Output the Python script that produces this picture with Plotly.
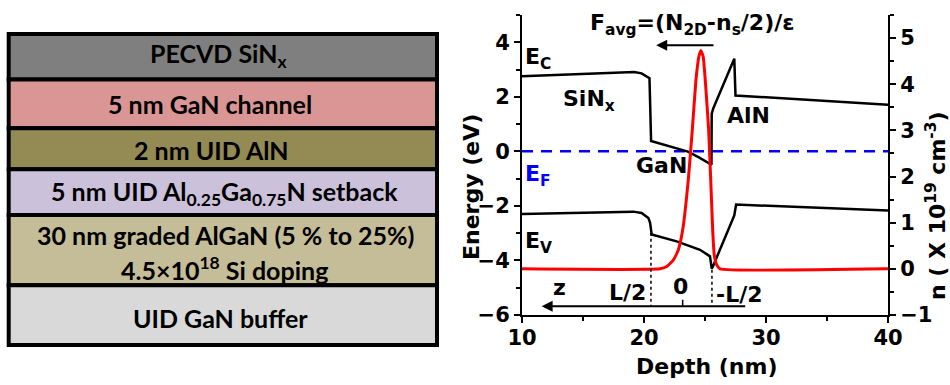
import plotly.graph_objects as go

W, H = 950, 385

# ---------------- data ----------------
# Conduction band edge E_C (eV) vs depth (nm)
depth_ec = [10, 19.2, 19.8, 20.3, 20.45, 20.58, 22.0, 23.6, 24.5, 25.45, 25.53,
            25.55, 25.7, 27.4, 27.5, 40]
energy_ec = [2.75, 2.91, 2.86, 2.72, 2.68, 0.38, 0.2, -0.01, -0.22, -0.47, -0.49,
             1.38, 1.6, 3.40, 2.05, 1.71]

# Valence band edge E_V (eV) vs depth (nm)
depth_ev = [10, 19.13, 19.8, 20.36, 20.5, 20.63, 22.68, 24.59, 25.41, 25.55,
            25.65, 27.4, 27.55, 40]
energy_ev = [-2.30, -2.21, -2.26, -2.44, -2.62, -3.05, -3.30, -3.61, -3.85, -4.30,
             -4.22, -2.35, -1.95, -2.17]

# Fermi level
depth_ef = [10, 40]
energy_ef = [0, 0]

# Electron density n (x 10^19 cm^-3) vs depth (nm)
depth_n = [10, 21.3, 21.86, 22.40, 22.81, 23.17, 23.63, 23.96, 24.26, 24.5, 24.67,
           24.85, 25.02, 25.30, 25.47, 25.63, 25.76, 25.96, 26.23, 40]
density_n = [0, 0, 0.05, 0.19, 0.41, 0.84, 1.93, 3.01, 4.10, 4.60, 4.73,
             4.60, 4.10, 3.01, 1.93, 0.84, 0.30, 0.085, 0, 0]

# Quantum-well edges (z = +L/2, -L/2) and centre (z = 0), nm
well_edges = [20.57, 25.57]
well_centre = 23.17

# Layer stack (top to bottom)
layer_names = ["PECVD SiN<sub>x</sub>", "5 nm GaN channel", "2 nm UID AlN",
               "5 nm UID Al<sub>0.25</sub>Ga<sub>0.75</sub>N setback",
               "30 nm graded AlGaN (5 % to 25%)", "UID GaN buffer"]
layer_extra = "4.5×10<sup>18</sup> Si doping"
layer_colors = ["#7f7f7f", "#d99694", "#948a54", "#ccc1da", "#c4bd97", "#d9d9d9"]

# ---------------- layout helpers ----------------
def pxx(x):
    return x / W

def pxy(y):
    return 1 - y / H

TICKFONT = dict(family="DejaVu Sans", size=21, color="black", weight="bold")
LABFONT = dict(family="DejaVu Sans", size=22, color="black", weight="bold")
BOXFONT = dict(family="Lato", size=25, color="black", weight="bold")

fig = go.Figure()
fig.add_trace(go.Scatter(x=depth_ef, y=energy_ef, mode="lines",
                         line=dict(color="#0000ff", width=2.5, dash="11px,8px"),
                         hoverinfo="skip"))
fig.add_trace(go.Scatter(x=depth_ec, y=energy_ec, mode="lines",
                         line=dict(color="black", width=2.5), hoverinfo="skip"))
fig.add_trace(go.Scatter(x=depth_ev, y=energy_ev, mode="lines",
                         line=dict(color="black", width=2.5), hoverinfo="skip"))
fig.add_trace(go.Scatter(x=depth_n, y=density_n, mode="lines", yaxis="y2",
                         line=dict(color="#ff0000", width=3, shape="spline", smoothing=0.4),
                         hoverinfo="skip"))

shapes = []
# layer boxes
bounds = [34, 79.5, 128.3, 169.3, 215, 285.3, 345]
bx0, bx1 = 8.7, 437
for i, col in enumerate(layer_colors):
    shapes.append(dict(type="rect", xref="paper", yref="paper",
                       x0=pxx(bx0), x1=pxx(bx1), y0=pxy(bounds[i + 1]), y1=pxy(bounds[i]),
                       fillcolor=col, line=dict(color="black", width=4), layer="above"))

# dotted verticals at the well edges
bottom_arrow_y = -5.68
shapes.append(dict(type="line", xref="x", yref="y", x0=well_edges[0], x1=well_edges[0],
                   y0=-2.98, y1=bottom_arrow_y, line=dict(color="black", width=1.5, dash="dot")))
shapes.append(dict(type="line", xref="x", yref="y", x0=well_edges[1], x1=well_edges[1],
                   y0=-4.34, y1=bottom_arrow_y, line=dict(color="black", width=1.5, dash="dot")))
# centre tick on the z arrow
shapes.append(dict(type="line", xref="x", yref="y", x0=well_centre, x1=well_centre,
                   y0=-5.44, y1=bottom_arrow_y, line=dict(color="black", width=1.5)))

ann = []
# layer texts
box_text_pos = [(219, 55), (210, 104), (211, 150), (224, 193), (225, 235), (220, 318)]
for name, (cx, cy) in zip(layer_names, box_text_pos):
    ann.append(dict(text=name, x=pxx(cx), y=pxy(cy), xref="paper", yref="paper",
                    showarrow=False, font=BOXFONT, xanchor="center", yanchor="middle"))
ann.append(dict(text=layer_extra, x=pxx(224), y=pxy(268), xref="paper", yref="paper",
                showarrow=False, font=BOXFONT, xanchor="center", yanchor="middle"))

# axis titles
ann.append(dict(text="Energy (eV)", x=pxx(471), y=pxy(187), xref="paper", yref="paper",
                showarrow=False, font=LABFONT, textangle=-90,
                xanchor="center", yanchor="middle"))
ann.append(dict(text="n ( X 10<sup>19</sup> cm<sup>-3</sup>)", x=pxx(936), y=pxy(206),
                xref="paper", yref="paper", showarrow=False, font=LABFONT, textangle=-90,
                xanchor="center", yanchor="middle"))
ann.append(dict(text="Depth (nm)", x=pxx(706), y=pxy(366), xref="paper", yref="paper",
                showarrow=False, font=LABFONT, xanchor="center", yanchor="middle"))

# in-plot labels
def lab(text, x, y, color="black", xanchor="left", yanchor="middle"):
    f = dict(LABFONT)
    f["color"] = color
    ann.append(dict(text=text, x=x, y=y, xref="x", yref="y", showarrow=False,
                    font=f, xanchor=xanchor, yanchor=yanchor))

lab("E<sub>C</sub>", 10.1, 3.4)
lab("SiN<sub>x</sub>", 13.2, 1.85)
lab("AlN", 26.6, 1.31)
lab("GaN", 19.2, -0.52)
lab("E<sub>F</sub>", 10.05, -0.9, color="#0000ff")
lab("E<sub>V</sub>", 10.05, -3.35)
lab("z", 13.07, -5.0, xanchor="center")
lab("L/2", 18.65, -5.18, xanchor="center")
lab("0", 22.99, -4.94, xanchor="center")
lab("-L/2", 27.83, -5.25, xanchor="center")
ann.append(dict(text="F<sub>avg</sub>=(N<sub>2D</sub>-n<sub>s</sub>/2)/ε",
                x=pxx(692), y=pxy(24), xref="paper", yref="paper", showarrow=False,
                font=LABFONT, xanchor="center", yanchor="middle"))

# arrows
ann.append(dict(text="", x=21.0, y=3.89, ax=25.82, ay=3.89, xref="x", yref="y",
                axref="x", ayref="y", showarrow=True, arrowhead=2, arrowsize=1.1,
                arrowwidth=2, arrowcolor="black"))
ann.append(dict(text="", x=11.61, y=bottom_arrow_y, ax=28.42, ay=bottom_arrow_y,
                xref="x", yref="y", axref="x", ayref="y", showarrow=True, arrowhead=2,
                arrowsize=1.1, arrowwidth=2, arrowcolor="black"))

axis_common = dict(showline=True, linewidth=2, linecolor="black", showgrid=False,
                   zeroline=False, ticks="outside", ticklen=6, tickwidth=2,
                   tickcolor="black", tickfont=TICKFONT, automargin=False)

fig.update_layout(
    width=W, height=H, margin=dict(l=0, r=0, t=0, b=0, pad=0, autoexpand=False),
    paper_bgcolor="white", plot_bgcolor="white", showlegend=False,
    xaxis=dict(domain=[522 / W, 888 / W], range=[10, 40], tick0=10, dtick=10,
               ticklabelstandoff=-3,
               minor=dict(dtick=5, ticks="outside", ticklen=4, tickwidth=2,
                          tickcolor="black", showgrid=False),
               anchor="y", **axis_common),
    yaxis=dict(domain=[1 - 315 / H, 1 - 15 / H], range=[-6, 5], tick0=0, dtick=2,
               minor=dict(dtick=1, ticks="outside", ticklen=4, tickwidth=2,
                          tickcolor="black", showgrid=False),
               anchor="x", **axis_common),
    yaxis2=dict(overlaying="y", side="right", anchor="x", range=[-1, 5.5], tick0=0,
                dtick=1,
                minor=dict(dtick=0.5, ticks="outside", ticklen=4, tickwidth=2,
                           tickcolor="black", showgrid=False),
                **axis_common),
    shapes=shapes, annotations=ann,
)

fig.write_html("out.html",
               config={"displayModeBar": False, "staticPlot": True},
               post_script="document.body.style.margin='0px';"
                           "document.body.style.overflow='hidden';")
